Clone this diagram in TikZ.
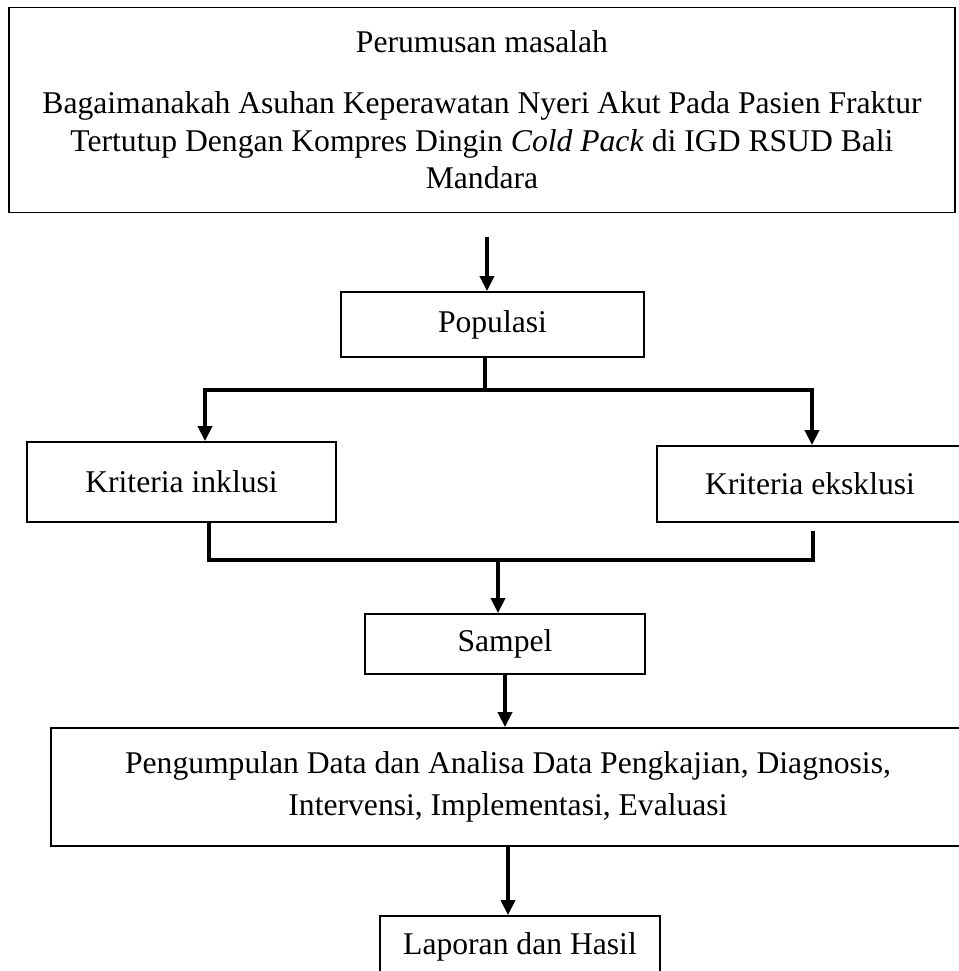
\documentclass[tikz,border=0pt]{standalone}
\usepackage{fontspec}
\setmainfont{Liberation Serif}
\usetikzlibrary{positioning, calc, arrows.meta}
\tikzstyle{box}=[rectangle, draw=black, line width=1.1pt, align=center, inner sep=0pt, font=\fontsize{18}{21.5}\selectfont]
\tikzstyle{arrow}=[line width=2pt, -{Triangle[width=8pt, length=8.5pt]}]
\tikzstyle{line}=[line width=2pt]

\begin{document}
\begin{tikzpicture}[x=0.02cm, y=-0.02cm]
    \useasboundingbox (0,0) rectangle (958,971);
    % Nodes
    \node[box, minimum width=18.94cm, minimum height=4.10cm] (masalah) at (482,110) {
        Perumusan masalah\\[13pt]
        Bagaimanakah Asuhan Keperawatan Nyeri Akut Pada Pasien Fraktur\\
        Tertutup Dengan Kompres Dingin \textit{Cold Pack} di IGD RSUD Bali\\
        Mandara
    };
    \node[box, minimum width=6.06cm, minimum height=1.30cm] (populasi) at (492.5,324.5) {Populasi};
    \node[box, minimum width=6.18cm, minimum height=1.60cm] (inklusi) at (181.5,482) {Kriteria inklusi};
    \node[box, minimum width=6.12cm, minimum height=1.52cm] (eksklusi) at (810,484) {Kriteria eksklusi};
    \node[box, minimum width=5.60cm, minimum height=1.20cm] (sampel) at (505,644) {Sampel};
    \node[box, minimum width=18.28cm, minimum height=2.36cm, font=\fontsize{18}{24}\selectfont] (pengumpulan) at (508,787) {
        Pengumpulan Data dan Analisa Data Pengkajian, Diagnosis,\\
        Intervensi, Implementasi, Evaluasi
    };
    \node[box, minimum width=5.60cm, minimum height=1.24cm] (laporan) at (520,947) {Laporan dan Hasil};

    % Branch points
    \coordinate (gap) at (487,237);
    \coordinate (split) at (485,390);
    \coordinate (splitL) at (205,390);
    \coordinate (splitR) at (812,390);
    \coordinate (joinL) at (209,560);
    \coordinate (joinR) at (813,560);
    \coordinate (join) at (498,560);
    \coordinate (eksTail) at (813,531);

    % Arrows
    \draw[arrow] (gap) -- (gap |- populasi.north);
    \draw[arrow] (split) -- (splitL) -- (splitL |- inklusi.north);
    \draw[arrow] (populasi.south -| split) -- (split) -- (splitR) -- (splitR |- eksklusi.north);
    \draw[line] (inklusi.south -| joinL) -- (joinL) -- (joinR) -- (eksTail);
    \draw[arrow] (join) -- (join |- sampel.north);
    \draw[arrow] (sampel.south) -- (sampel.south |- pengumpulan.north);
    \draw[arrow] (pengumpulan.south) -- (pengumpulan.south |- laporan.north);
\end{tikzpicture}
\end{document}
